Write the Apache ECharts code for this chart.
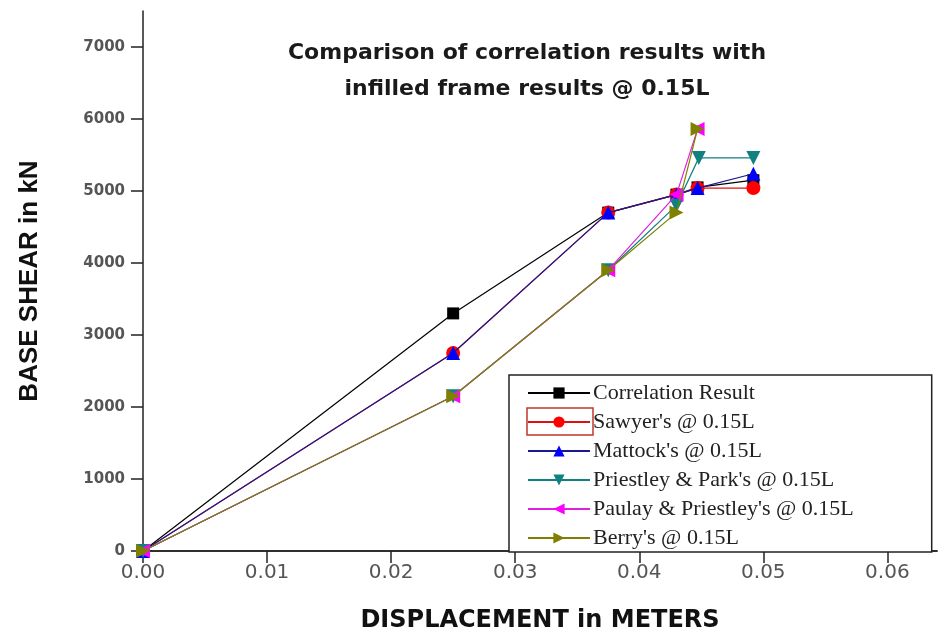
<!DOCTYPE html>
<html>
<head>
<meta charset="utf-8">
<script src="https://cdn.jsdelivr.net/npm/echarts@6/dist/echarts.min.js"></script>
<style>
  html, body { margin: 0; padding: 0; background: #fff; }
  #chart { width: 938px; height: 638px; }
</style>
</head>
<body>
<div id="chart"></div>
<script>
// Base shear vs. displacement for the infilled frame at 0.15L
const seriesNames = [
  "Correlation Result",
  "Sawyer's @ 0.15L",
  "Mattock's @ 0.15L",
  "Priestley & Park's @ 0.15L",
  "Paulay & Priestley's @ 0.15L",
  "Berry's @ 0.15L"
];

// displacement (m)
const corrDisp    = [0, 0.025, 0.0375, 0.043, 0.0447, 0.0492];
const sawyerDisp  = [0, 0.025, 0.0375, 0.043, 0.0447, 0.0492];
const mattockDisp = [0, 0.025, 0.0375, 0.043, 0.0447, 0.0492];
const ppDisp      = [0, 0.025, 0.0375, 0.043, 0.0448, 0.0492];
const paulayDisp  = [0, 0.025, 0.0375, 0.043, 0.0447];
const berryDisp   = [0, 0.025, 0.0375, 0.043, 0.0447];

// base shear (kN)
const corrShear    = [0, 3300, 4700, 4950, 5050, 5150];
const sawyerShear  = [0, 2750, 4700, 4950, 5040, 5040];
const mattockShear = [0, 2750, 4700, 4950, 5040, 5240];
const ppShear      = [0, 2150, 3900, 4800, 5460, 5460];
const paulayShear  = [0, 2150, 3900, 4950, 5860];
const berryShear   = [0, 2150, 3900, 4700, 5860];

const xTicks = [0, 0.01, 0.02, 0.03, 0.04, 0.05, 0.06];
const yTicks = [0, 1000, 2000, 3000, 4000, 5000, 6000, 7000];

const pairs = (xs, ys) => xs.map((x, i) => [x, ys[i]]);

const styles = [
  { line: '#000000', mark: '#000000', symbol: 'rect', rotate: 0 },
  { line: '#e01010', mark: '#ff0000', symbol: 'circle', rotate: 0 },
  { line: '#1a1a90', mark: '#0000ff', symbol: 'triangle', rotate: 0 },
  { line: '#108080', mark: '#108080', symbol: 'triangle', rotate: 180 },
  { line: '#e020e0', mark: '#ff00ff', symbol: 'triangle', rotate: 90 },
  { line: '#808000', mark: '#808000', symbol: 'triangle', rotate: -90 }
];

const dataSets = [
  pairs(corrDisp, corrShear),
  pairs(sawyerDisp, sawyerShear),
  pairs(mattockDisp, mattockShear),
  pairs(ppDisp, ppShear),
  pairs(paulayDisp, paulayShear),
  pairs(berryDisp, berryShear)
];

const series = seriesNames.map((name, i) => ({
  name: name,
  type: 'line',
  data: dataSets[i],
  symbol: styles[i].symbol,
  symbolRotate: styles[i].rotate,
  symbolSize: styles[i].symbol === 'rect' ? 12 : 14,
  showAllSymbol: true,
  clip: false,
  lineStyle: { color: styles[i].line, width: 1.2 },
  itemStyle: { color: styles[i].mark },
  emphasis: { disabled: true },
  z: 2 + i
}));

const chart = echarts.init(document.getElementById('chart'), null, { renderer: 'canvas' });

chart.setOption({
  animation: false,
  backgroundColor: '#ffffff',
  title: {
    text: 'Comparison of correlation results with\ninfilled frame results @ 0.15L',
    left: 522,
    top: 30,
    textAlign: 'center',
    textStyle: {
      fontFamily: 'DejaVu Sans',
      fontWeight: 'bold',
      fontSize: 22,
      lineHeight: 36,
      color: '#1a1a1a'
    }
  },
  grid: { left: 143, right: 1, top: 11, bottom: 81, containLabel: false },
  xAxis: [{
    type: 'value',
    min: 0,
    max: 0.064,
    interval: 0.01,
    name: 'DISPLACEMENT in METERS',
    nameLocation: 'middle',
    nameGap: 58,
    nameTextStyle: {
      fontFamily: 'DejaVu Sans',
      fontWeight: 'bold',
      fontSize: 24,
      color: '#111'
    },
    axisLine: { show: true, onZero: false, lineStyle: { color: '#222', width: 1.5 } },
    axisTick: { show: true, inside: false, length: 12, customValues: xTicks, lineStyle: { color: '#222', width: 1.5 } },
    axisLabel: {
      customValues: xTicks,
      margin: 12,
      fontFamily: 'DejaVu Sans',
      fontSize: 20,
      color: '#555',
      formatter: v => v.toFixed(2)
    },
    splitLine: { show: false }
  }, {
    type: 'value',
    position: 'top',
    min: 0,
    max: 0.064,
    axisLine: { show: true, lineStyle: { color: '#222', width: 1.5 } },
    axisTick: { show: false },
    axisLabel: { show: false },
    splitLine: { show: false }
  }],
  yAxis: {
    type: 'value',
    min: 0,
    max: 7500,
    interval: 1000,
    name: 'BASE SHEAR in kN',
    nameLocation: 'middle',
    nameGap: 100,
    nameRotate: 90,
    nameTextStyle: {
      fontFamily: 'Liberation Sans',
      fontWeight: 'bold',
      fontSize: 26,
      color: '#111'
    },
    axisLine: { show: true, onZero: false, lineStyle: { color: '#222', width: 1.5 } },
    axisTick: { show: true, inside: false, length: 12, customValues: yTicks, lineStyle: { color: '#222', width: 1.5 } },
    axisLabel: {
      customValues: yTicks,
      margin: 18,
      fontFamily: 'DejaVu Sans',
      fontWeight: 'bold',
      fontSize: 15,
      color: '#555',
      formatter: v => String(v)
    },
    splitLine: { show: false }
  },
  legend: {
    orient: 'vertical',
    left: 509,
    top: 375,
    itemWidth: 62,
    itemHeight: 14,
    itemGap: 7,
    padding: [7, 78, 3, 18],
    borderColor: '#222',
    borderWidth: 1.5,
    backgroundColor: '#ffffff',
    selectedMode: false,
    textStyle: {
      fontFamily: 'Liberation Serif',
      fontSize: 22,
      lineHeight: 22,
      color: '#222',
      padding: [0, 0, 0, -2]
    },
    data: seriesNames
  },
  graphic: [{
    type: 'rect',
    shape: { x: 527, y: 408, width: 66, height: 27 },
    style: { fill: 'none', stroke: '#c0392b', lineWidth: 1.5 },
    z: 100
  }],
  series: series
});
</script>
</body>
</html>
